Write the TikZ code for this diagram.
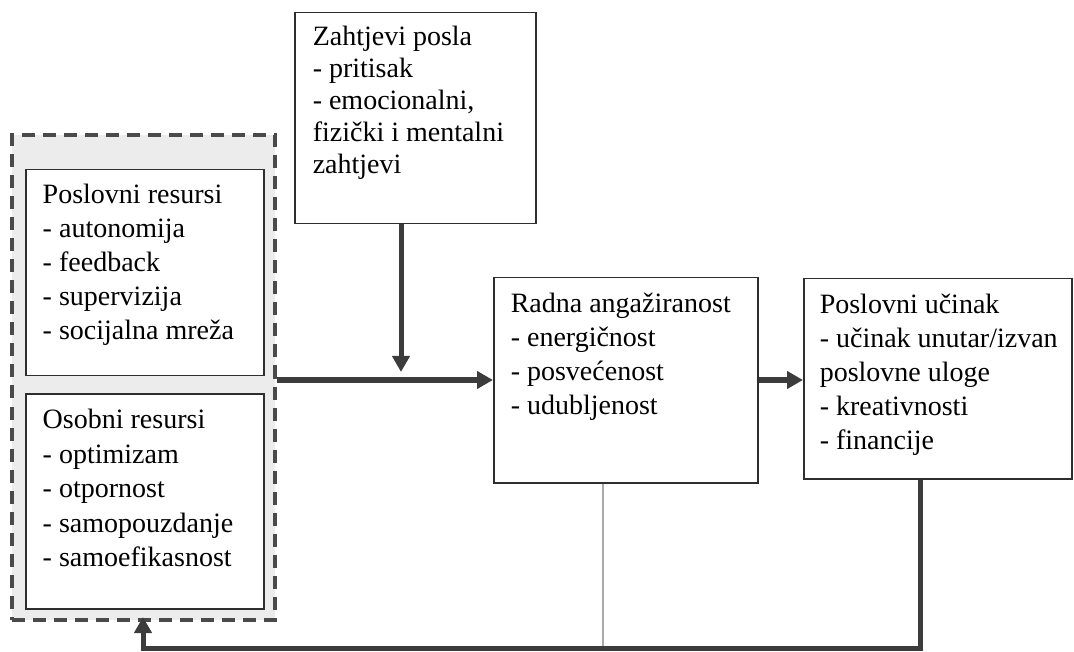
\documentclass[tikz,border=0pt]{standalone}
\usepackage{fontspec}
\setmainfont{LiberationSerif}[Extension=.ttf,UprightFont=*-Regular,BoldFont=*-Bold,ItalicFont=*-Italic,BoldItalicFont=*-BoldItalic]
\usetikzlibrary{arrows.meta}
\definecolor{linegray}{HTML}{3C3C3C}
\definecolor{boxline}{HTML}{2E2E2E}
\definecolor{fillgray}{HTML}{ECECEC}
\definecolor{dashgray}{HTML}{4A4A4A}
\definecolor{thingray}{HTML}{AAAAAA}
% width, height, left pad, first baseline, baselineskip, text
\newcommand{\boxtext}[6]{\parbox[c][#2pt][t]{#1pt}{\rmfamily\fontsize{28}{#5}\selectfont\raggedright\leftskip=#3pt\relax\rule{0pt}{#4pt}#6}}
\begin{document}
\begin{tikzpicture}[x=1pt,y=-1pt,
  box/.style={draw=boxline, line width=1.5pt, fill=white, inner sep=0pt, anchor=north west},
  group/.style={draw=dashgray, line width=4pt, dash pattern=on 13pt off 8pt, fill=fillgray, inner sep=0pt},
  arr/.style={draw=linegray, line width=5pt, line join=miter, -{Triangle[length=16pt,width=17pt]}},
  thinline/.style={draw=thingray, line width=1.5pt}]
\useasboundingbox (0,0) rectangle (1074,652);
\node[group, minimum width=263pt, minimum height=484pt] (res) at (143,377.5) {};
\node[box] (pr) at (25,169) {\boxtext{238}{206}{17}{34}{34}{Poslovni resursi\\- autonomija\\- feedback\\- supervizija\\- socijalna mreža}};
\node[box] (os) at (25,393) {\boxtext{238}{215}{17}{35}{34.5}{Osobni resursi\\- optimizam\\- otpornost\\- samopouzdanje\\- samoefikasnost}};
\node[box] (zah) at (294,12) {\boxtext{241}{211}{18}{33}{32}{Zahtjevi posla\\- pritisak\\- emocionalni,\\fizički i mentalni\\zahtjevi}};
\node[box] (radna) at (493,277) {\boxtext{264}{205}{17}{35}{34}{Radna angažiranost\\- energičnost\\- posvećenost\\- udubljenost}};
\node[box] (uc) at (803,278) {\boxtext{268}{200}{16}{35}{34}{Poslovni učinak\\- učinak unutar/izvan\\poslovne uloge\\- kreativnosti\\- financije}};
\coordinate (j) at (401,380);
\coordinate (jt) at (401,372);
\coordinate (tl) at (603,648);
\coordinate (fbr) at (920,648);
\coordinate (fbl) at (143,648);
\draw[thinline] (radna.south -| tl) -- (tl);
\draw[arr] (zah.south -| jt) -- (jt);
\draw[arr] (res.east |- j) -- (radna.west |- j);
\draw[arr] (radna.east |- j) -- (uc.west |- j);
\draw[arr, shorten >=-4.5pt] (uc.south -| fbr) -- (fbr) -- (fbl) -- (res.south);
\end{tikzpicture}
\end{document}
